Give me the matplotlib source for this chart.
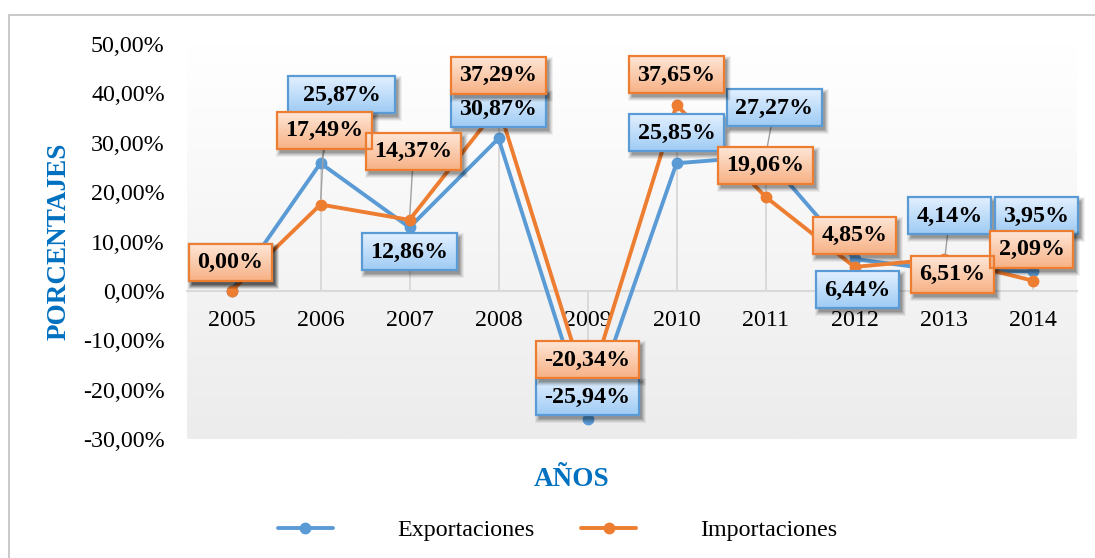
import numpy as np
import matplotlib
matplotlib.use('Agg')
import matplotlib.pyplot as plt
from matplotlib.patches import Rectangle
from matplotlib.image import BboxImage
from matplotlib.transforms import Bbox, IdentityTransform
from matplotlib.colors import to_rgb

# ---------------- data ----------------
years = ['2005', '2006', '2007', '2008', '2009', '2010', '2011', '2012', '2013', '2014']
exportaciones = [0.00, 25.87, 12.86, 30.87, -25.94, 25.85, 27.27, 6.44, 4.14, 3.95]
importaciones = [0.00, 17.49, 14.37, 37.29, -20.34, 37.65, 19.06, 4.85, 6.51, 2.09]
y_ticks = [-30, -20, -10, 0, 10, 20, 30, 40, 50]

# label offsets (pixels: right, down) relative to the data point
exp_offsets = [(-1, -28), (21, -68), (0, 25), (0, -29), (0, -22), (0, -30), (9, -48), (3, 31), (6, -54), (4, -55)]
imp_offsets = [(-1, -28), (4, -74), (4, -68), (0, -31), (0, -31), (0, -30), (0, -31), (0, -31), (9, 16), (-1, -31)]
exp_leader = [False, True, False, False, False, False, True, False, True, False]
imp_leader = [False, True, True, False, False, False, False, False, False, False]
# extra horizontal padding (px) per label box (one box was widened in the original)
exp_extra = [0, 6, 0, 0, 0, 0, 0, 0, 0, 0]
imp_extra = [0, 0, 0, 0, 0, 0, 0, 0, 0, 0]

BLUE = '#5b9bd5'
ORANGE = '#ed7d31'
SERIF = 'Liberation Serif'

def fmt(v):
    return f"{v:.2f}%".replace('.', ',')

W, H, DPI = 1095, 558, 100
fig = plt.figure(figsize=(W / DPI, H / DPI), dpi=DPI)
fig.patch.set_facecolor('white')

# outer chart border
fig.add_artist(Rectangle((9 / W, -0.1), 1.2, (1 - 15 / H) + 0.1, transform=fig.transFigure,
                         facecolor='none', edgecolor='#c0c0c0', linewidth=1.2))

ax = fig.add_axes([187 / W, (H - 439) / H, (1077 - 187) / W, (439 - 44) / H])
ax.set_xlim(-0.5, len(years) - 0.5)
ax.set_ylim(-30, 50)
ax.set_facecolor('none')

# plot-area gradient
g = np.linspace(0, 1, 256)[:, None]
top = np.array(to_rgb('#ffffff'))
bot = np.array(to_rgb('#ececec'))
grad = (top[None, None, :] * (1 - g[..., None]) + bot[None, None, :] * g[..., None])
ax.imshow(grad, extent=(0, 1, 0, 1), transform=ax.transAxes, aspect='auto', zorder=0,
          interpolation='bilinear')

x = np.arange(len(years))

# drop lines
for i in range(len(years)):
    hi = max(exportaciones[i], importaciones[i])
    lo = min(exportaciones[i], importaciones[i])
    end = hi if hi > 0 else lo
    if end != 0:
        ax.vlines(i, 0, end, color='#d4d4d4', linewidth=1.2, zorder=1)

# axes styling
for s in ['left', 'right', 'top']:
    ax.spines[s].set_visible(False)
ax.spines['bottom'].set_position(('data', 0))
ax.spines['bottom'].set_color('#d9d9d9')
ax.spines['bottom'].set_linewidth(1.5)
ax.spines['bottom'].set_zorder(1.5)
ax.set_xticks(x)
ax.set_xticklabels(years, fontfamily=SERIF, fontsize=17.3)
ax.set_yticks(y_ticks)
ax.set_yticklabels([fmt(v) for v in y_ticks], fontfamily=SERIF, fontsize=17.3)
ax.tick_params(axis='both', length=0)
ax.tick_params(axis='y', pad=16)
ax.tick_params(axis='x', pad=14)

# series
ax.plot(x, exportaciones, color=BLUE, linewidth=2.8, marker='o', markersize=7.5,
        zorder=2, label='Exportaciones', solid_capstyle='round')
ax.plot(x, importaciones, color=ORANGE, linewidth=2.8, marker='o', markersize=7.5,
        zorder=2.1, label='Importaciones', solid_capstyle='round')

PX = 72 / DPI

def add_labels(values, offsets, leaders, z):
    texts = []
    for i, (v, (dx, dy), ld) in enumerate(zip(values, offsets, leaders)):
        if ld:
            ax.annotate('', xy=(i, v), xytext=(dx * PX, -dy * PX), textcoords='offset points',
                        arrowprops=dict(arrowstyle='-', color='#a0a0a0', lw=1.0,
                                        shrinkA=0, shrinkB=4),
                        zorder=3, annotation_clip=False)
        t = ax.annotate(fmt(v), xy=(i, v), xytext=(dx * PX, -dy * PX), textcoords='offset points',
                        ha='center', va='center', fontfamily=SERIF, fontweight='bold',
                        fontsize=17.3, color='black', zorder=z + 0.5, annotation_clip=False)
        texts.append(t)
    return texts

exp_texts = add_labels(exportaciones, exp_offsets, exp_leader, 4)
imp_texts = add_labels(importaciones, imp_offsets, imp_leader, 5)

# axis titles
fig.text(59 / W, 1 - 241 / H, 'PORCENTAJES', rotation=90, ha='center', va='center',
         fontfamily=SERIF, fontweight='bold', fontsize=19.5, color='#0070c0')
fig.text(572 / W, 1 - 480 / H, 'AÑOS', ha='center', va='center',
         fontfamily=SERIF, fontweight='bold', fontsize=19.5, color='#0070c0')

# legend
leg = fig.legend(loc='center', bbox_to_anchor=(558 / W, 1 - 530 / H), ncol=2, frameon=False,
                 prop={'family': SERIF, 'size': 17.3}, handlelength=2.25, handletextpad=2.7,
                 columnspacing=1.95, borderpad=0)

# decorate label boxes (gradient fill, border, shadow)
fig.canvas.draw()
renderer = fig.canvas.get_renderer()

def decorate(texts, extras, c_top, c_bot, edge, z):
    ct = np.array(to_rgb(c_top))
    cb = np.array(to_rgb(c_bot))
    gg = np.linspace(0, 1, 64)[:, None, None]
    arr = ct[None, None, :] * (1 - gg) + cb[None, None, :] * gg
    for t, ex in zip(texts, extras):
        bb = t.get_window_extent(renderer)
        x0, y0, x1, y1 = bb.x0 - 8.5 - ex, bb.y0 - 7.5, bb.x1 + 8.5 + ex, bb.y1 + 8.5
        for k, a in [(4, 0.05), (3, 0.07), (2, 0.09), (1, 0.11), (0, 0.13)]:
            s = Rectangle((x0 + 3 - k, y0 - 4 - k), (x1 - x0) + 2 * k, (y1 - y0) + 2 * k,
                          transform=IdentityTransform(), facecolor='black', alpha=a,
                          edgecolor='none', zorder=z)
            ax.add_artist(s)
            s.set_clip_on(False)
        img = BboxImage(Bbox.from_extents(x0, y0, x1, y1), interpolation='bilinear',
                        zorder=z + 0.1, origin='upper')
        img.set_data(arr)
        ax.add_artist(img)
        img.set_clip_on(False)
        b = Rectangle((x0, y0), x1 - x0, y1 - y0, transform=IdentityTransform(),
                      facecolor='none', edgecolor=edge, linewidth=1.6, zorder=z + 0.2)
        ax.add_artist(b)
        b.set_clip_on(False)

decorate(exp_texts, exp_extra, '#e2f0ff', '#9fcbf4', BLUE, 4)
decorate(imp_texts, imp_extra, '#fee6d6', '#f7b185', ORANGE, 5)

fig.savefig('out.png', dpi=DPI)
